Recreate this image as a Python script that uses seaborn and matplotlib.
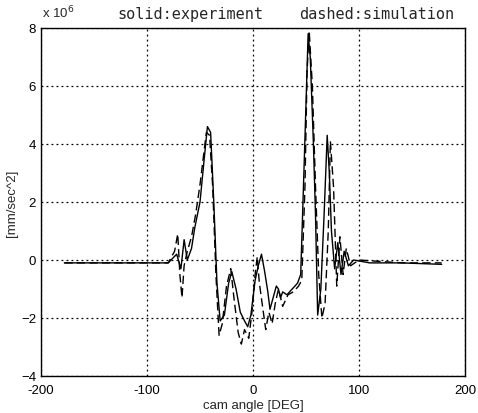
import numpy as np
import pandas as pd
import matplotlib
matplotlib.use("Agg")
import matplotlib.pyplot as plt
import seaborn as sns

# cam angle [deg] and acceleration [x1e6 mm/sec^2]
exp_angle = [-178, -120, -80, -72, -68, -65, -62, -58, -55, -50, -46, -43, -40, -37,
             -34, -31, -27, -23, -20, -16, -12, -8, -5, -2, 2, 5, 8, 11, 14, 16, 19,
             22, 24, 26, 28, 32, 37, 42, 45, 48, 52, 54, 57, 59, 61, 64, 67, 70, 72, 74,
             77, 80, 83, 86, 90, 95, 110, 140, 178]
exp_acc = [-0.1, -0.1, -0.1, 0.2, -0.3, 0.7, 0.0, 0.4, 1.1, 2.0, 3.5, 4.6, 4.4, 2.0,
           -0.8, -2.1, -1.9, -0.8, -0.4, -1.0, -1.8, -2.1, -2.3, -1.9, -0.7, -0.2, 0.2,
           -0.4, -1.1, -1.7, -1.3, -0.9, -1.0, -1.3, -1.1, -1.2, -1.0, -0.8, -0.5, 3.0,
           7.8, 7.0, 4.0, 1.5, -1.9, -1.0, 1.5, 4.3, 3.0, 1.0, -0.3, 0.6, -0.5, 0.3,
           -0.2, 0.0, -0.1, -0.1, -0.15]

sim_angle = [-178, -120, -80, -74, -71, -69, -67, -65, -62, -58, -54, -50, -46, -44,
             -41, -38, -35, -32, -29, -25, -21, -18, -14, -11, -8, -4, -1, 2, 4, 6, 9,
             12, 15, 18, 21, 24, 28, 33, 38, 43, 46, 49, 51, 53, 56, 59, 62, 65, 68,
             71, 73, 76, 79, 82, 85, 88, 92, 100, 140, 178]
sim_acc = [-0.1, -0.1, -0.1, 0.3, 0.9, -0.5, -1.3, -0.2, 0.3, 0.8, 1.6, 2.6, 3.8, 4.4,
           4.3, 2.5, -0.5, -2.6, -2.2, -0.9, -0.3, -1.3, -2.5, -2.9, -2.4, -2.7, -1.8,
           -0.5, 0.1, -0.8, -1.6, -2.4, -1.8, -2.2, -1.5, -1.0, -1.6, -1.2, -1.1, -0.9,
           -0.7, 2.5, 6.5, 7.9, 6.0, 2.5, -0.5, -2.0, -1.5, 1.0, 4.1, 2.5, -0.9, 0.8,
           -0.5, 0.4, -0.2, 0.0, -0.1, -0.1]

x_ticks = [-200, -100, 0, 100, 200]
y_ticks = [-4, -2, 0, 2, 4, 6, 8]

sns.set_style("white")
plt.rcParams['font.family'] = ['Liberation Sans', 'DejaVu Sans']

df_exp = pd.DataFrame({"angle": exp_angle, "acc": exp_acc})
df_sim = pd.DataFrame({"angle": sim_angle, "acc": sim_acc})

fig = plt.figure(figsize=(4.78, 4.14), dpi=100)
ax = fig.add_axes([0.0858, 0.0894, 0.887, 0.8406])

sns.lineplot(data=df_exp, x="angle", y="acc", ax=ax, color="black", lw=1.0,
             linestyle="-", estimator=None, sort=False)
sns.lineplot(data=df_sim, x="angle", y="acc", ax=ax, color="black", lw=1.0,
             linestyle=(0, (6, 3)), estimator=None, sort=False)

ax.set_xlim(-200, 200)
ax.set_ylim(-4, 8)
ax.set_xticks(x_ticks)
ax.set_yticks(y_ticks)
ax.set_xticklabels([str(t) for t in x_ticks])
ax.grid(True, color="black", linestyle=(0, (1.5, 2.5)), linewidth=0.9)
ax.tick_params(direction="in", length=4, labelsize=9.5, colors="black")
ax.tick_params(axis="x", pad=6)
for s in ax.spines.values():
    s.set_color("black")
    s.set_linewidth(1.0)

ax.set_xlabel("cam angle [DEG]", fontsize=9.5, labelpad=2)
ax.set_ylabel("[mm/sec^2]", fontsize=9.5, labelpad=2)

fig.text(0.088, 0.955, r"x 10$^{6}$", fontsize=9.5)
fig.text(0.245, 0.955, "solid:experiment", fontsize=11, family="DejaVu Sans Mono")
fig.text(0.625, 0.955, "dashed:simulation", fontsize=11, family="DejaVu Sans Mono")

fig.savefig("out.png", dpi=100)
